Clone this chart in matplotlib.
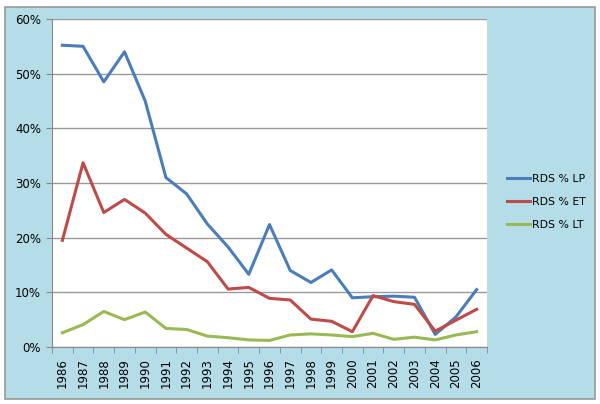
import matplotlib
matplotlib.use('Agg')
import matplotlib.pyplot as plt
from matplotlib.patches import Rectangle
from matplotlib.ticker import FuncFormatter

years = list(range(1986, 2007))
rds_lp = [55.2, 55.0, 48.5, 54.0, 45.0, 31.0, 28.0, 22.5, 18.3, 13.3, 22.4,
          14.0, 11.8, 14.1, 9.0, 9.2, 9.3, 9.1, 2.3, 5.5, 10.5]
rds_et = [19.5, 33.7, 24.6, 27.0, 24.5, 20.6, 18.1, 15.6, 10.6, 10.9, 8.9,
          8.6, 5.1, 4.7, 2.8, 9.4, 8.3, 7.8, 2.9, 4.9, 6.9]
rds_lt = [2.6, 4.1, 6.5, 5.0, 6.4, 3.4, 3.2, 2.0, 1.7, 1.3, 1.2,
          2.2, 2.4, 2.2, 1.9, 2.5, 1.4, 1.8, 1.3, 2.2, 2.8]

bg = '#b4dde8'
fig = plt.figure(figsize=(6, 4.04), dpi=100)
fig.patch.set_facecolor('white')
fig.patches.append(Rectangle((5 / 600, 5 / 404), 590 / 600, 392 / 404,
                             transform=fig.transFigure, facecolor=bg,
                             edgecolor='#999999', linewidth=1.2, zorder=-5))

ax = fig.add_axes([52 / 600, 1 - 347 / 404, 435 / 600, 328 / 404])
ax.set_facecolor('white')

x = list(range(len(years)))
ax.plot(x, rds_lp, color='#4a7ebb', lw=2.2, label='RDS % LP')
ax.plot(x, rds_et, color='#be4b48', lw=2.2, label='RDS % ET')
ax.plot(x, rds_lt, color='#98b954', lw=2.2, label='RDS % LT')

ax.set_xlim(-0.5, len(years) - 0.5)
ax.set_ylim(0, 60)
ax.set_yticks(range(0, 61, 10))
ax.yaxis.set_major_formatter(FuncFormatter(lambda v, p: f'{v:.0f}%'))
ax.set_xticks(x)
ax.set_xticklabels(years, rotation=90)
ax.set_xticks([i - 0.5 for i in range(len(years) + 1)], minor=True)
ax.tick_params(axis='x', which='major', length=0, pad=8, labelsize=8.5)
ax.tick_params(axis='x', which='minor', length=4, color='#888888')
ax.tick_params(axis='y', length=4, color='#888888', labelsize=8.5, pad=4)
ax.grid(axis='y', color='#999999', lw=1)
ax.set_axisbelow(True)
for s in ['top', 'right']:
    ax.spines[s].set_visible(False)
for s in ['left', 'bottom']:
    ax.spines[s].set_color('#888888')

fig.legend(*ax.get_legend_handles_labels(), loc='center left',
           bbox_to_anchor=(507 / 600, 1 - 202 / 404), frameon=False,
           fontsize=7.8, handlelength=2.1, handletextpad=0.2,
           labelspacing=1.2, borderpad=0, borderaxespad=0)

fig.savefig('out.png', dpi=100)
